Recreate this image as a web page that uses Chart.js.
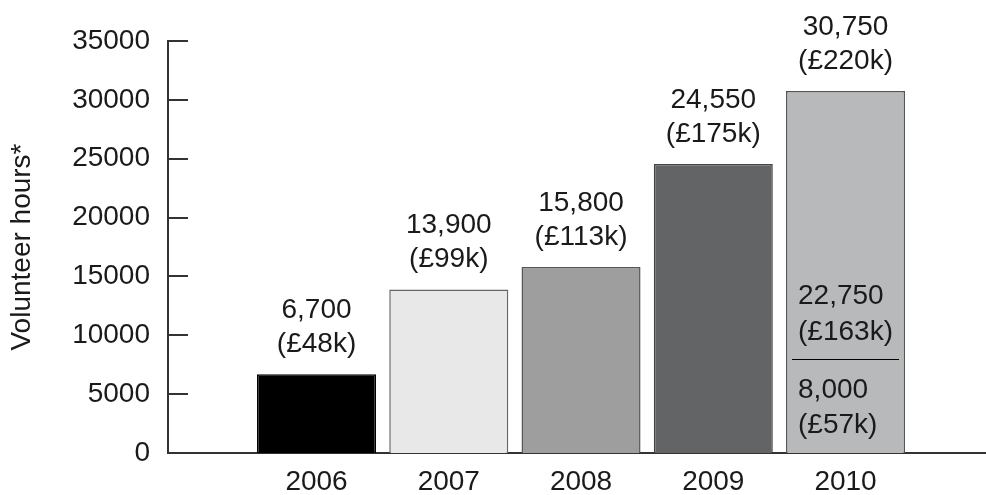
<!DOCTYPE html>
<html>
<head>
<meta charset="utf-8">
<script src="https://cdn.jsdelivr.net/npm/chart.js@4"></script>
<style>
    body { margin: 0; background: #fff; }
    #wrap { width: 986px; height: 495px; }
</style>
</head>
<body>
<div id="wrap"><canvas id="chart"></canvas></div>
<script>
// 数据
const years = [2006, 2007, 2008, 2009, 2010];
const hours = [6700, 13900, 15800, 24550, 30750];
const worth = ['£48k', '£99k', '£113k', '£175k', '£220k'];
const barColors = ['#000000', '#e8e8e8', '#9e9e9e', '#636466', '#b8b9bb'];
const yTicks = [0, 5000, 10000, 15000, 20000, 25000, 30000, 35000];

// 2010 拆分
const splitYear = 2010;
const splitHours = [8000, 22750];
const splitWorth = ['£57k', '£163k'];

const FONT = "'Liberation Sans', Arial, sans-serif";
const fmt = n => n.toLocaleString('en-GB');

Chart.defaults.font.family = FONT;
Chart.defaults.font.size = 28;
Chart.defaults.color = '#1a1a1a';

// 向内的刻度线
const innerTicks = {
    id: 'innerTicks',
    afterDraw(chart) {
        const ctx = chart.ctx;
        const y = chart.scales.y;
        ctx.save();
        ctx.strokeStyle = '#333';
        ctx.lineWidth = 2;
        yTicks.forEach(v => {
            const py = Math.round(y.getPixelForValue(v));
            ctx.beginPath();
            ctx.moveTo(y.right - 1, py);
            ctx.lineTo(y.right + 20, py);
            ctx.stroke();
        });
        ctx.restore();
    }
};

// 柱上标签
const barLabels = {
    id: 'barLabels',
    afterDatasetsDraw(chart) {
        const ctx = chart.ctx;
        const y = chart.scales.y;
        const meta = chart.getDatasetMeta(0);
        ctx.save();
        ctx.font = '28px ' + FONT;
        ctx.fillStyle = '#1a1a1a';
        ctx.textBaseline = 'alphabetic';
        meta.data.forEach((bar, i) => {
            ctx.textAlign = 'center';
            ctx.fillText(fmt(hours[i]), bar.x, bar.y - 56);
            ctx.fillText('(' + worth[i] + ')', bar.x, bar.y - 22);

            if (years[i] === splitYear) {
                const left = bar.x - bar.width / 2;
                const right = bar.x + bar.width / 2;
                const dy = Math.round(y.getPixelForValue(splitHours[0])) + 0.5;
                ctx.strokeStyle = '#000';
                ctx.lineWidth = 1;
                ctx.beginPath();
                ctx.moveTo(left + 6, dy);
                ctx.lineTo(right - 6, dy);
                ctx.stroke();

                ctx.textAlign = 'left';
                ctx.fillText(fmt(splitHours[1]), left + 12, dy - 56);
                ctx.fillText('(' + splitWorth[1] + ')', left + 12, dy - 20);
                ctx.fillText(fmt(splitHours[0]), left + 12, dy + 38);
                ctx.fillText('(' + splitWorth[0] + ')', left + 12, dy + 73);
            }
        });
        ctx.restore();
    }
};

new Chart(document.getElementById('chart'), {
    type: 'bar',
    data: {
        datasets: [{
            data: years.map((yr, i) => ({ x: yr, y: hours[i] })),
            backgroundColor: barColors,
            borderColor: ['#000', '#666', '#555', '#444', '#555'],
            borderWidth: 1.5,
            borderSkipped: 'bottom',
            categoryPercentage: 1,
            barPercentage: 0.9
        }]
    },
    options: {
        responsive: true,
        maintainAspectRatio: false,
        animation: false,
        devicePixelRatio: 1,
        layout: { padding: { top: 41, right: 0, left: 0, bottom: 0 } },
        plugins: { legend: { display: false }, tooltip: { enabled: false } },
        scales: {
            x: {
                type: 'linear',
                offset: false,
                min: 2004.877,
                max: 2011.062,
                afterBuildTicks: s => { s.ticks = years.map(v => ({ value: v })); },
                afterFit: s => { s.height = 42; },
                grid: { display: false, drawTicks: false },
                border: { display: true, color: '#333', width: 2 },
                ticks: { padding: 12, color: '#1a1a1a', callback: v => String(v) }
            },
            y: {
                min: 0,
                max: 35000,
                afterBuildTicks: s => { s.ticks = yTicks.map(v => ({ value: v })); },
                afterFit: s => { s.width = 168; },
                grid: { display: false, drawTicks: false },
                border: { display: true, color: '#333', width: 2 },
                ticks: { padding: 18, color: '#1a1a1a', callback: v => String(v) },
                title: {
                    display: true,
                    text: 'Volunteer hours*',
                    color: '#1a1a1a',
                    font: { size: 28 },
                    padding: { top: 5, bottom: 0 }
                }
            }
        }
    },
    plugins: [innerTicks, barLabels]
});
</script>
</body>
</html>
